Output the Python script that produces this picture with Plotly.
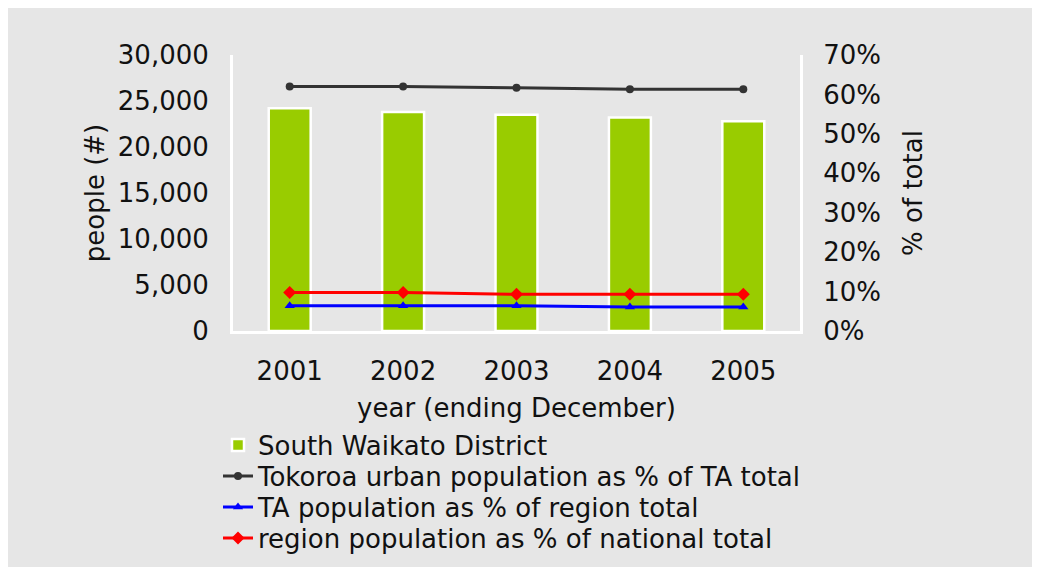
import plotly.graph_objects as go

years = ["2001", "2002", "2003", "2004", "2005"]
district_pop = [24200, 23800, 23500, 23200, 22800]
tokoroa_pct = [0.620, 0.620, 0.617, 0.613, 0.613]
ta_region_pct = [0.064, 0.064, 0.064, 0.061, 0.061]
region_nat_pct = [0.0975, 0.0975, 0.093, 0.093, 0.093]

W, H = 1040, 567
OFF = 8  # page body margin
L, R, T, B = 233 - OFF, W - (800 - OFF), 55 - OFF, H - (331 - OFF)
pw, ph = W - L - R, H - T - B

def px_x(p):
    return (p - OFF - L) / pw

def px_y(p):
    return (H - B - (p - OFF)) / ph

FONT = "DejaVu Sans"
BG = "#e6e6e6"
FS = 26

fig = go.Figure()
fig.add_trace(go.Bar(
    x=years, y=district_pop, name="South Waikato District",
    marker=dict(color="#99cc00", line=dict(color="white", width=2.5)),
    width=0.37, yaxis="y", legend="legend"))
fig.add_trace(go.Scatter(
    x=years, y=tokoroa_pct, name="Tokoroa urban population as % of TA total",
    mode="lines+markers", line=dict(color="#333333", width=3),
    marker=dict(symbol="circle", size=8, color="#333333"), yaxis="y2",
    legend="legend2"))
fig.add_trace(go.Scatter(
    x=years, y=ta_region_pct, name="TA population as % of region total",
    mode="lines+markers", line=dict(color="#0000ff", width=3),
    marker=dict(symbol="triangle-up", size=9, color="#0000ff"), yaxis="y2",
    legend="legend3"))
fig.add_trace(go.Scatter(
    x=years, y=region_nat_pct, name="region population as % of national total",
    mode="lines+markers", line=dict(color="#ff0000", width=3),
    marker=dict(symbol="diamond", size=10, color="#ff0000"), yaxis="y2",
    legend="legend4"))

def leg(ycenter):
    return dict(x=px_x(218), y=px_y(ycenter), xanchor="left", yanchor="middle",
                bgcolor="rgba(0,0,0,0)", font=dict(size=FS, family=FONT, color="#111111"))

fig.update_layout(
    width=W, height=H,
    margin=dict(l=L, r=R, t=T, b=B, pad=0, autoexpand=False),
    paper_bgcolor=BG, plot_bgcolor=BG,
    font=dict(family=FONT, size=FS, color="#111111"),
    showlegend=True,
    legend=leg(445), legend2=leg(476), legend3=leg(507), legend4=leg(538),
    xaxis=dict(showline=True, linecolor="white", linewidth=3, showgrid=False,
               ticks="outside", ticklen=15, tickcolor=BG, tickwidth=1,
               title=dict(text="year (ending December)", standoff=14, font=dict(size=FS)),
               tickfont=dict(size=FS)),
    yaxis=dict(range=[0, 30000], tickvals=[0, 5000, 10000, 15000, 20000, 25000, 30000],
               tickformat=",d", showline=True, linecolor="white", linewidth=3,
               showgrid=False, zeroline=False, ticks="outside", ticklen=16, tickcolor=BG,
               title=dict(text="people (#)", standoff=6, font=dict(size=FS)),
               tickfont=dict(size=FS)),
    yaxis2=dict(range=[0, 0.7], tickvals=[0, 0.1, 0.2, 0.3, 0.4, 0.5, 0.6, 0.7],
                tickformat=".0%", overlaying="y", side="right", showline=True,
                linecolor="white", linewidth=3, showgrid=False, zeroline=False,
                ticks="outside", ticklen=15, tickcolor=BG,
                title=dict(text="% of total", standoff=24, font=dict(size=FS)),
                tickfont=dict(size=FS)),
)

fig.write_html("out.html")
